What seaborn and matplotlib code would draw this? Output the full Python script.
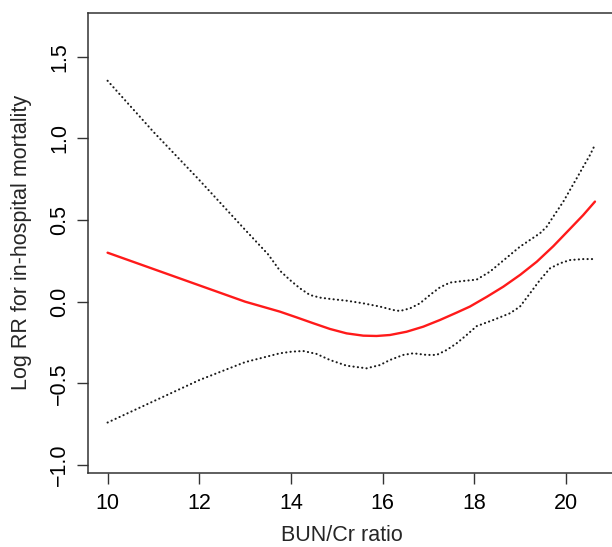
import numpy as np
import pandas as pd
import matplotlib
matplotlib.use("Agg")
import matplotlib.pyplot as plt
import seaborn as sns

# values
bun_cr = [10.0, 11.0, 12.0, 13.0, 13.758, 14.121, 14.485, 14.849, 15.212, 15.575, 15.866, 16.157,
          16.52, 16.884, 17.248, 17.611, 17.9, 18.27, 18.63, 19.0, 19.36, 19.72, 20.08,
          20.37, 20.628]
log_rr = [0.30, 0.20, 0.10, 0.0, -0.061, -0.096, -0.132, -0.167, -0.194, -0.208, -0.210, -0.204,
          -0.184, -0.153, -0.112, -0.067, -0.030, 0.030, 0.092, 0.165, 0.245, 0.340, 0.445,
          0.530, 0.613]

upper_x = [10.0, 11.0, 12.0, 13.0, 13.5, 13.758, 13.976, 14.194, 14.412, 14.63, 14.849, 15.212,
           15.575, 15.939, 16.23, 16.375, 16.593, 16.811, 17.029, 17.248, 17.466, 17.756, 18.047,
           18.338, 18.556, 18.774, 18.993, 19.211, 19.429, 19.574, 19.719, 19.938, 20.083, 20.228,
           20.374, 20.519, 20.614]
upper_y = [1.353, 1.04, 0.745, 0.44, 0.29, 0.19, 0.133, 0.082, 0.041, 0.025, 0.017, 0.006,
           -0.010, -0.030, -0.051, -0.057, -0.041, -0.010, 0.041, 0.088, 0.117, 0.127, 0.135,
           0.184, 0.235, 0.286, 0.337, 0.378, 0.419, 0.459, 0.521, 0.613, 0.684, 0.755,
           0.827, 0.898, 0.953]

lower_x = [10.0, 11.0, 12.0, 13.0, 13.758, 14.012, 14.267, 14.558, 14.849, 15.212, 15.648, 15.939,
           16.157, 16.448, 16.666, 16.957, 17.175, 17.393, 17.611, 17.829, 18.047, 18.411, 18.774,
           18.993, 19.211, 19.429, 19.647, 19.865, 20.083, 20.374, 20.614]
lower_y = [-0.74, -0.61, -0.48, -0.37, -0.316, -0.306, -0.302, -0.320, -0.357, -0.392, -0.408, -0.388,
           -0.357, -0.326, -0.316, -0.326, -0.326, -0.296, -0.255, -0.204, -0.15, -0.112, -0.071,
           -0.030, 0.051, 0.133, 0.204, 0.235, 0.255, 0.261, 0.261]

xticks = [10, 12, 14, 16, 18, 20]
yticks = [-1.0, -0.5, 0.0, 0.5, 1.0, 1.5]
ytick_labels = ["\u22121.0", "\u22120.5", "0.0", "0.5", "1.0", "1.5"]

sns.set_style("ticks")
plt.rcParams['font.family'] = ['Liberation Sans', 'DejaVu Sans']

fig = plt.figure(figsize=(6.12, 5.47), dpi=100)
ax = fig.add_axes([0.1443, 0.1347, 0.8655, 0.841])

dot = (0, (0.1, 2.0))
sns.lineplot(x=upper_x, y=upper_y, sort=False, color='#1a1a1a', lw=1.5,
             linestyle=dot, dash_capstyle='round', ax=ax)
sns.lineplot(x=lower_x, y=lower_y, sort=False, color='#1a1a1a', lw=1.5,
             linestyle=dot, dash_capstyle='round', ax=ax)
sns.lineplot(x=bun_cr, y=log_rr, sort=False, color='#ff1a1a', lw=1.7, ax=ax)

ax.set_xlim(9.58, 21.13)
ax.set_ylim(-1.051, 1.766)
ax.set_xticks(xticks)
ax.set_xticklabels([str(t) for t in xticks])
ax.set_yticks(yticks)
ax.set_yticklabels(ytick_labels, rotation=90, va='center')
ax.tick_params(axis='both', direction='out', length=8, width=1, color='#333333',
               labelsize=15.5, labelcolor='black')
ax.tick_params(axis='x', pad=6)
ax.tick_params(axis='y', pad=5)
for s in ax.spines.values():
    s.set_visible(True)
    s.set_color('#333333')
    s.set_linewidth(1.1)

ax.set_xlabel('BUN/Cr ratio', fontsize=15.5, va='baseline')
ax.set_ylabel('Log RR for in-hospital mortality', fontsize=15.5, va='center')
ax.xaxis.set_label_coords(0.478, -0.147)
ax.yaxis.set_label_coords(-0.127, 0.5025)

fig.savefig('out.png', dpi=100)
